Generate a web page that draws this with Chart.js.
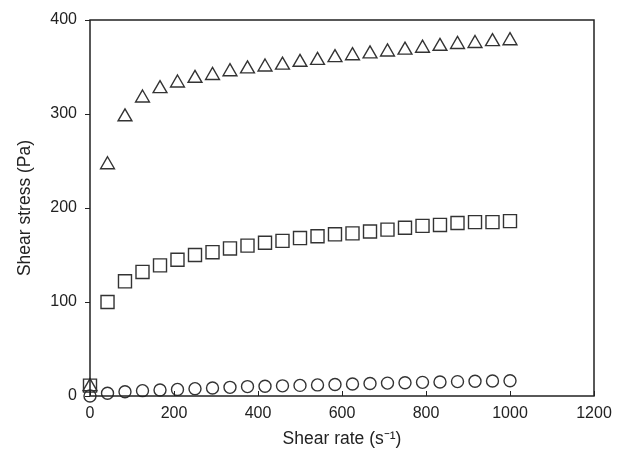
<!DOCTYPE html>
<html>
<head>
<meta charset="utf-8">
<script src="https://cdn.jsdelivr.net/npm/chart.js@4/dist/chart.umd.min.js"></script>
<style>
  html, body { margin: 0; padding: 0; background: #fff; }
  #wrap { width: 624px; height: 450px; }
</style>
</head>
<body>
<div id="wrap"><canvas id="chart" width="624" height="450"></canvas></div>
<script>
// shear rate values (x) shared by all three series
const shearRate = [0, 41.7, 83.3, 125, 166.7, 208.3, 250, 291.7, 333.3, 375, 416.7, 458.3, 500,
  541.7, 583.3, 625, 666.7, 708.3, 750, 791.7, 833.3, 875, 916.7, 958.3, 1000];

// shear stress (Pa)
const triangleStress = [10, 246, 297, 317, 327, 333, 338, 341, 345, 348, 350, 352, 355,
  357, 360, 362, 364, 366, 368, 370, 372, 374, 375, 377, 378];
const squareStress = [11, 100, 122, 132, 139, 145, 150, 153, 157, 160, 163, 165, 168,
  170, 172, 173, 175, 177, 179, 181, 182, 184, 185, 185, 186];
const circleStress = [0, 3, 4.6, 5.7, 6.4, 7, 7.8, 8.5, 9.2, 10, 10.3, 10.8, 11.3,
  11.8, 12.3, 12.8, 13.3, 13.7, 14.1, 14.5, 14.9, 15.3, 15.7, 16, 16.3];

const xTicks = [0, 200, 400, 600, 800, 1000, 1200];
const yTicks = [0, 100, 200, 300, 400];

const toPoints = (ys) => shearRate.map((x, i) => ({ x: x, y: ys[i] }));

const ink = "#333";

// box around the plot and x ticks pointing inwards
const frame = {
  id: "frame",
  afterDraw(chart) {
    const { ctx, chartArea: a, scales } = chart;
    ctx.save();
    ctx.strokeStyle = "#222";
    ctx.lineWidth = 1.5;
    ctx.strokeRect(a.left, a.top, a.right - a.left, a.bottom - a.top);
    ctx.lineWidth = 1;
    ctx.beginPath();
    xTicks.forEach(v => {
      const px = Math.round(scales.x.getPixelForValue(v)) + 0.5;
      ctx.moveTo(px, a.bottom);
      ctx.lineTo(px, a.bottom - 5);
    });
    ctx.stroke();
    ctx.restore();
  }
};

function series(label, data, style, radius) {
  return {
    label: label,
    data: toPoints(data),
    showLine: false,
    pointStyle: style,
    pointRadius: radius,
    pointHoverRadius: radius,
    pointBorderWidth: 1.4,
    pointBorderColor: ink,
    pointBackgroundColor: "rgba(0,0,0,0)",
    clip: false
  };
}

const tickFont = { family: "Liberation Sans, Arial", size: 16 };
const titleFont = { family: "Liberation Sans, Arial", size: 17.5 };

new Chart(document.getElementById("chart"), {
  type: "scatter",
  data: {
    datasets: [
      series("Triangle", triangleStress, "triangle", 8),
      series("Square", squareStress, "rect", 9.2),
      series("Circle", circleStress, "circle", 6)
    ]
  },
  plugins: [frame],
  options: {
    responsive: false,
    animation: false,
    layout: { padding: { top: 20, right: 30, left: 0, bottom: 0 } },
    plugins: {
      legend: { display: false },
      tooltip: { enabled: false }
    },
    scales: {
      x: {
        type: "linear",
        min: 0,
        max: 1200,
        afterBuildTicks: (s) => { s.ticks = xTicks.map(v => ({ value: v })); },
        afterFit: (s) => { s.height = 54; },
        grid: { display: false, drawTicks: false },
        border: { display: false },
        ticks: { color: "#222", padding: 8, maxRotation: 0, font: tickFont, callback: (v) => String(v) },
        title: {
          display: true,
          text: "Shear rate (s\u207B\u00B9)",
          color: "#222",
          padding: { top: 2, bottom: 0 },
          font: titleFont
        }
      },
      y: {
        type: "linear",
        min: 0,
        max: 400,
        afterBuildTicks: (s) => { s.ticks = yTicks.map(v => ({ value: v })); },
        afterFit: (s) => { s.width = 90; },
        grid: { drawOnChartArea: false, drawTicks: true, tickLength: 5, color: "#222" },
        border: { display: false },
        ticks: { color: "#222", padding: 8, font: tickFont, callback: (v) => String(v) },
        title: {
          display: true,
          text: "Shear stress (Pa)",
          color: "#222",
          padding: { top: 15, bottom: 0 },
          font: titleFont
        }
      }
    }
  }
});
</script>
</body>
</html>
